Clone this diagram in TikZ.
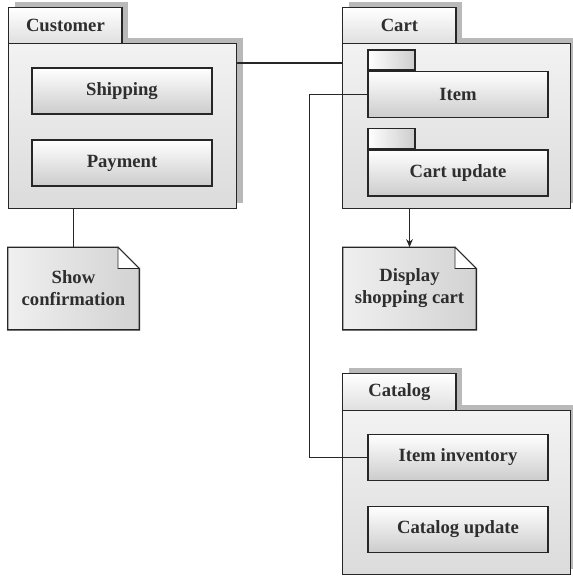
\documentclass[tikz,border=0pt]{standalone}
\usepackage{fontspec}
\setmainfont{Liberation Serif}
\usepackage{tikz}
\usetikzlibrary{arrows.meta, calc, shadows, backgrounds}
\definecolor{lineDark}{rgb}{0.15, 0.15, 0.15}
\definecolor{textDark}{rgb}{0.18, 0.18, 0.18}
\definecolor{shadowGray}{rgb}{0.70, 0.70, 0.70}

\tikzset{
  labelfont/.style={font=\fontsize{14}{16.5}\selectfont\bfseries, text=textDark},
  pkgbody/.style={draw=lineDark, line width=1.1pt, anchor=north west, inner sep=0pt,
    top color=gray!10, bottom color=gray!28,
    drop shadow={shadow xshift=4.5pt, shadow yshift=4.5pt, fill=shadowGray, opacity=0.9}},
  pkgtab/.style={pkgbody, labelfont, top color=white, bottom color=gray!25,
    minimum width=85pt, minimum height=27pt},
  itembox/.style={draw=lineDark, line width=1.1pt, labelfont, top color=white, bottom color=gray!40,
    minimum width=135pt, minimum height=34.5pt},
  itemflap/.style={draw=lineDark, line width=1.1pt, anchor=south west, inner sep=0pt,
    left color=white, right color=gray!40, minimum width=35.25pt, minimum height=15pt},
  notebox/.style={labelfont, align=center, minimum height=61.5pt},
  note/.style={draw=lineDark, line width=1.1pt, left color=gray!12, right color=gray!35},
  fold/.style={draw=lineDark, line width=0.6pt, fill=white},
  link/.style={draw=lineDark, line width=1.1pt},
}

\begin{document}
\begin{tikzpicture}[x=0.75pt, y=-0.75pt, line cap=round]
  \useasboundingbox (0,0) rectangle (572,577);

  % Customer
  \node[pkgbody, minimum width=171pt, minimum height=123.75pt] (cust) at (8,43) {};
  \node[pkgtab] (custtab) at (8,7) {Customer};
  \node[itembox] (ship) at (122,91) {Shipping};
  \node[itembox] (pay) at (122,163) {Payment};

  % Cart
  \node[pkgbody, minimum width=171pt, minimum height=123.75pt] (cart) at (342,43) {};
  \node[pkgtab] (carttab) at (342,7) {Cart};
  \node[itembox] (item) at (458,94.5) {Item};
  \node[itemflap] (itemtab) at (item.north west) {};
  \node[itembox] (upd) at (458,173) {Cart update};
  \node[itemflap] (updtab) at (upd.north west) {};

  % Catalog
  \node[pkgbody, minimum width=171pt, minimum height=123pt] (cat) at (342,410) {};
  \node[pkgtab, minimum height=27.75pt] (cattab) at (342,373) {Catalog};
  \node[itembox] (inv) at (458,457.5) {Item inventory};
  \node[itembox] (catupd) at (458,529.5) {Catalog update};

  % notes
  \node[notebox, minimum width=98.25pt] (conf) at (73.5,288.5) {Show\\confirmation};
  \node[notebox, minimum width=99.75pt] (disp) at (409.5,288.5) {Display\\shopping cart};
  \begin{scope}[on background layer]
    \fill[white] (0,0) rectangle (572,577);
    \foreach \n in {conf, disp} {
      \path[note] (\n.south west) -- (\n.north west) -- ([xshift=-16pt]\n.north east)
        -- ([yshift=-16pt]\n.north east) -- (\n.south east) -- cycle;
      \path[fold] ([xshift=-16pt]\n.north east) |- ([yshift=-16pt]\n.north east) -- cycle;
    }
  \end{scope}

  \draw[link] ([yshift=-15pt]cust.north east) -- ([yshift=-15pt]cart.north west);
  \draw[link] (conf.north |- cust.south) -- (conf.north);
  \draw[link, -{Stealth[length=6pt, width=5pt]}] (disp.north |- cart.south) -- (disp.north);
  \draw[link] (item.west) -- ++(-43.5pt,0) |- (inv.west);
\end{tikzpicture}
\end{document}
